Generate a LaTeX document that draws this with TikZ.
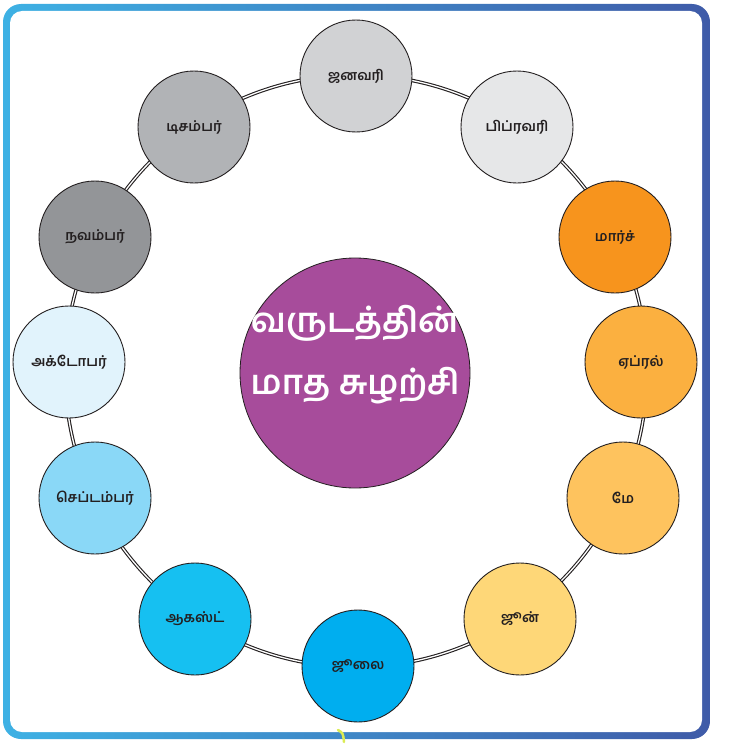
\documentclass[tikz,border=0pt]{standalone}
\usepackage{fontspec}
\newfontfamily\tamil[Script=Tamil]{Hind Madurai SemiBold}
\newfontfamily\tamilbold[Script=Tamil]{Hind Madurai SemiBold}
\definecolor{txt}{HTML}{231F20}
\definecolor{cjan}{HTML}{D1D2D4}
\definecolor{cfeb}{HTML}{E6E7E8}
\definecolor{cmar}{HTML}{F7941D}
\definecolor{capr}{HTML}{FBB040}
\definecolor{cmay}{HTML}{FEC35E}
\definecolor{cjun}{HTML}{FED778}
\definecolor{cjul}{HTML}{00AEEF}
\definecolor{caug}{HTML}{16C0F1}
\definecolor{csep}{HTML}{8AD8F7}
\definecolor{coct}{HTML}{E1F3FC}
\definecolor{cnov}{HTML}{939598}
\definecolor{cdec}{HTML}{B1B3B6}
\definecolor{cmid}{HTML}{A74C9B}
\definecolor{bleft}{HTML}{3EB1E4}
\definecolor{bright}{HTML}{3F5BA8}
\tikzset{
  month/.style={circle, minimum size=112pt, inner sep=0pt, draw=txt, line width=0.9pt,
    text=txt, font=\tamil\fontsize{14}{16}\selectfont},
  hub/.style={circle, minimum size=230pt, inner sep=0pt, draw=txt, line width=0.8pt,
    fill=cmid},
  hubtext/.style={inner sep=0pt, text=white, align=center,
    font=\tamilbold\fontsize{34}{62}\selectfont},
  ringline/.style={draw=txt, double=white, double distance=1.3pt, line width=1.1pt}
}
\begin{document}
\begin{tikzpicture}[x=1pt,y=-1pt]
\useasboundingbox (0,0) rectangle (728,752);
% frame
\shade[left color=bleft, right color=bright, rounded corners=18pt] (3,4) rectangle (710,739);
\fill[white, rounded corners=12pt] (10,11) rectangle (702,732);
% ring
\coordinate (rc) at (356,371);
\draw[ringline] (rc) ellipse [x radius=291pt, y radius=296pt];
% hub
\node[hub] (hubn) at (355,373) {};
\node[hubtext] (hubt) at (hubn.center) [yshift=18pt] {வருடத்தின்\\மாத சுழற்சி};
% months
\node[month, fill=cjan] (jan) at (356,76) {ஜனவரி};
\node[month, fill=cfeb] (feb) at (517,127) {பிப்ரவரி};
\node[month, fill=cmar] (mar) at (615,237) {மார்ச்};
\node[month, fill=capr] (apr) at (641,362) {ஏப்ரல்};
\node[month, fill=cmay] (may) at (623,498) {மே};
\node[month, fill=cjun] (jun) at (520,619) {ஜூன்};
\node[month, fill=cjul] (jul) at (358,666) {ஜூலை};
\node[month, fill=caug] (aug) at (195,619) {ஆகஸ்ட்};
\node[month, fill=csep] (sep) at (95,498) {செப்டம்பர்};
\node[month, fill=coct] (oct) at (69,362) {அக்டோபர்};
\node[month, fill=cnov] (nov) at (95,237) {நவம்பர்};
\node[month, fill=cdec] (dec) at (194,127) {டிசம்பர்};
% stray mark
\draw[yellow!80!green!70, line width=2.5pt, line cap=round] (338,730) .. controls (343,733) .. (344,742);
\end{tikzpicture}
\end{document}
